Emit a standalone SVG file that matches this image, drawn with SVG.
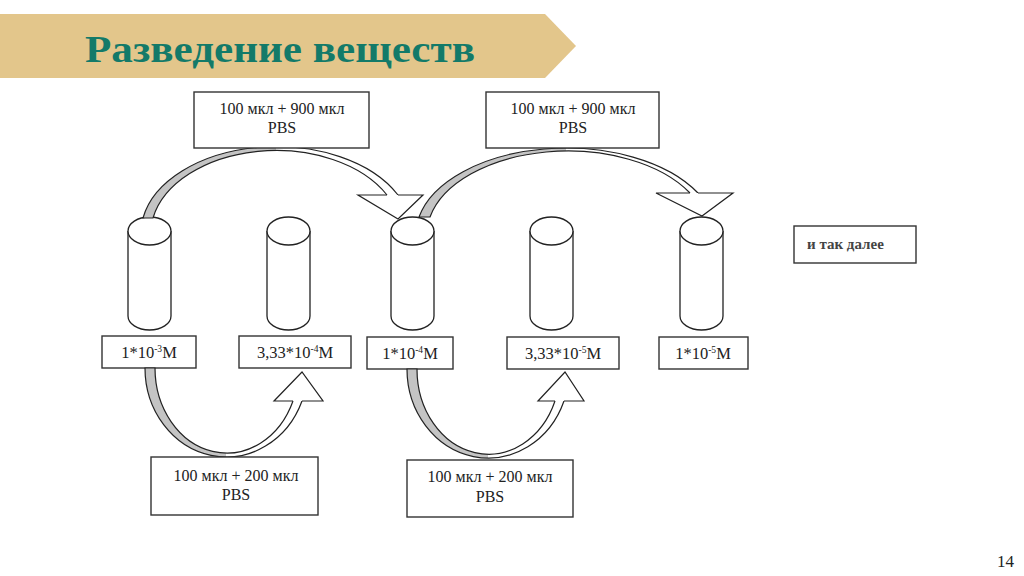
<svg xmlns="http://www.w3.org/2000/svg" width="1024" height="576" viewBox="0 0 1024 576">
<style>
.box{fill:#fff;stroke:#333;stroke-width:1.4}
.cyl{fill:#fff;stroke:#222;stroke-width:1.3}
.t{font-family:"Liberation Serif","Times New Roman",serif;fill:#222;text-anchor:middle}
.band{fill:#fff;stroke:none}
.shade{fill:#c4c4c4;stroke:none}
.edge{fill:none;stroke:#222;stroke-width:1.2;stroke-linejoin:miter}
.head{fill:#fff;stroke:none}
</style>
<defs>
<clipPath id="c1"><rect x="0" y="0" width="276" height="576"/></clipPath>
<clipPath id="c2"><rect x="0" y="0" width="566" height="576"/></clipPath>
<clipPath id="c3"><rect x="0" y="0" width="226" height="576"/></clipPath>
<clipPath id="c4"><rect x="0" y="0" width="488" height="576"/></clipPath>
</defs>
<rect width="1024" height="576" fill="#fff"/>
<g id="title">
<polygon points="0,14 545,14 576,46 545,78 0,78" fill="#e3c68b"/>
<text x="85" y="62" font-family="Liberation Serif,Times New Roman,serif" font-weight="bold" font-size="37" fill="#137a69" textLength="390" lengthAdjust="spacingAndGlyphs">Разведение веществ</text>
</g>
<g id="tube1"><path class="cyl" d="M128,231 L128,316 A21.5,14 0 0,0 171,316 L171,231"/><ellipse class="cyl" cx="149.5" cy="231" rx="21.5" ry="14"/></g>
<g id="tube2"><path class="cyl" d="M267,231 L267,316 A21.5,14 0 0,0 310,316 L310,231"/><ellipse class="cyl" cx="288.5" cy="231" rx="21.5" ry="14"/></g>
<g id="tube3"><path class="cyl" d="M391,231 L391,316 A21.5,14 0 0,0 434,316 L434,231"/><ellipse class="cyl" cx="412.5" cy="231" rx="21.5" ry="14"/></g>
<g id="tube4"><path class="cyl" d="M530,231 L530,316 A21.5,14 0 0,0 573,316 L573,231"/><ellipse class="cyl" cx="551.5" cy="231" rx="21.5" ry="14"/></g>
<g id="tube5"><path class="cyl" d="M680,231 L680,316 A21.5,14 0 0,0 723,316 L723,231"/><ellipse class="cyl" cx="701.5" cy="231" rx="21.5" ry="14"/></g>
<g id="label1"><rect class="box" x="102" y="336" width="94" height="32"/><text class="t" x="149" y="358" font-size="16.5">1*10<tspan font-size="9.5" dy="-6">-3</tspan><tspan dy="6">M</tspan></text></g>
<g id="label2"><rect class="box" x="239" y="336" width="112" height="32"/><text class="t" x="295" y="358" font-size="16.5">3,33*10<tspan font-size="9.5" dy="-6">-4</tspan><tspan dy="6">M</tspan></text></g>
<g id="label3"><rect class="box" x="367" y="337" width="86" height="32"/><text class="t" x="410" y="359" font-size="16.5">1*10<tspan font-size="9.5" dy="-6">-4</tspan><tspan dy="6">M</tspan></text></g>
<g id="label4"><rect class="box" x="507" y="337" width="112" height="32"/><text class="t" x="563" y="359" font-size="16.5">3,33*10<tspan font-size="9.5" dy="-6">-5</tspan><tspan dy="6">M</tspan></text></g>
<g id="label5"><rect class="box" x="659" y="337" width="89" height="32"/><text class="t" x="703" y="359" font-size="16.5">1*10<tspan font-size="9.5" dy="-6">-5</tspan><tspan dy="6">M</tspan></text></g>
<g id="connectors">
<g id="arrow-top1">
<path class="band" d="M143,218 A135.6,87 0 0,1 398,195 L387,195 A125.6,84 0 0,0 153,218 Z"/>
<path class="shade" clip-path="url(#c1)" d="M143,218 A135.6,87 0 0,1 398,195 L387,195 A125.6,84 0 0,0 153,218 Z"/>
<path class="edge" d="M387,195 A125.6,84 0 0,0 153,218 L143,218 A135.6,87 0 0,1 398,195"/>
<polygon class="head" points="358,195 423,195 398,219"/>
<path class="edge" d="M387,195 L358,195 L398,219 L423,195 L398,195"/>
</g>
<g id="arrow-top2">
<path class="band" d="M419,217 A150.5,87 0 0,1 698,193 L690,193 A141.1,84 0 0,0 430,217 Z"/>
<path class="shade" clip-path="url(#c2)" d="M419,217 A150.5,87 0 0,1 698,193 L690,193 A141.1,84 0 0,0 430,217 Z"/>
<path class="edge" d="M690,193 A141.1,84 0 0,0 430,217 L419,217 A150.5,87 0 0,1 698,193"/>
<polygon class="head" points="656,193 733,193 702,216"/>
<path class="edge" d="M690,193 L656,193 L702,216 L733,193 L698,193"/>
</g>
<g id="arrow-bottom1">
<path class="band" d="M145,368 A81.4,89 0 0,0 302,401 L293,401 A71.8,85 0 0,1 155,368 Z"/>
<path class="shade" clip-path="url(#c3)" d="M145,368 A81.4,89 0 0,0 302,401 L293,401 A71.8,85 0 0,1 155,368 Z"/>
<path class="edge" d="M293,401 A71.8,85 0 0,1 155,368 L145,368 A81.4,89 0 0,0 302,401"/>
<polygon class="head" points="274,401 323,401 302,372"/>
<path class="edge" d="M293,401 L274,401 L302,372 L323,401 L302,401"/>
</g>
<g id="arrow-bottom2">
<path class="band" d="M407,369 A81.2,89 0 0,0 564,401 L555,401 A71.6,85 0 0,1 417,369 Z"/>
<path class="shade" clip-path="url(#c4)" d="M407,369 A81.2,89 0 0,0 564,401 L555,401 A71.6,85 0 0,1 417,369 Z"/>
<path class="edge" d="M555,401 A71.6,85 0 0,1 417,369 L407,369 A81.2,89 0 0,0 564,401"/>
<polygon class="head" points="538,401 584,401 565,372"/>
<path class="edge" d="M555,401 L538,401 L565,372 L584,401 L564,401"/>
</g>
</g>
<g id="step-top1"><rect class="box" x="194" y="92" width="175" height="56"/><text class="t" x="282" y="114" font-size="16">100 мкл + 900 мкл</text><text class="t" x="282" y="133" font-size="16">PBS</text></g>
<g id="step-top2"><rect class="box" x="486" y="92" width="173" height="56"/><text class="t" x="573" y="114" font-size="16">100 мкл + 900 мкл</text><text class="t" x="573" y="133" font-size="16">PBS</text></g>
<g id="step-bottom1"><rect class="box" x="151" y="457" width="167" height="58"/><text class="t" x="236" y="481" font-size="16">100 мкл + 200 мкл</text><text class="t" x="236" y="500" font-size="16">PBS</text></g>
<g id="step-bottom2"><rect class="box" x="407" y="460" width="166" height="57"/><text class="t" x="490" y="482" font-size="16">100 мкл + 200 мкл</text><text class="t" x="490" y="502" font-size="16">PBS</text></g>
<g id="etc"><rect class="box" x="794" y="226" width="122" height="37"/><text x="807" y="249" font-family="Liberation Serif,Times New Roman,serif" font-weight="bold" font-size="15" fill="#444">и так далее</text></g>
<text x="1014" y="567" font-family="Liberation Serif,Times New Roman,serif" font-size="17" fill="#222" text-anchor="end">14</text>
</svg>
